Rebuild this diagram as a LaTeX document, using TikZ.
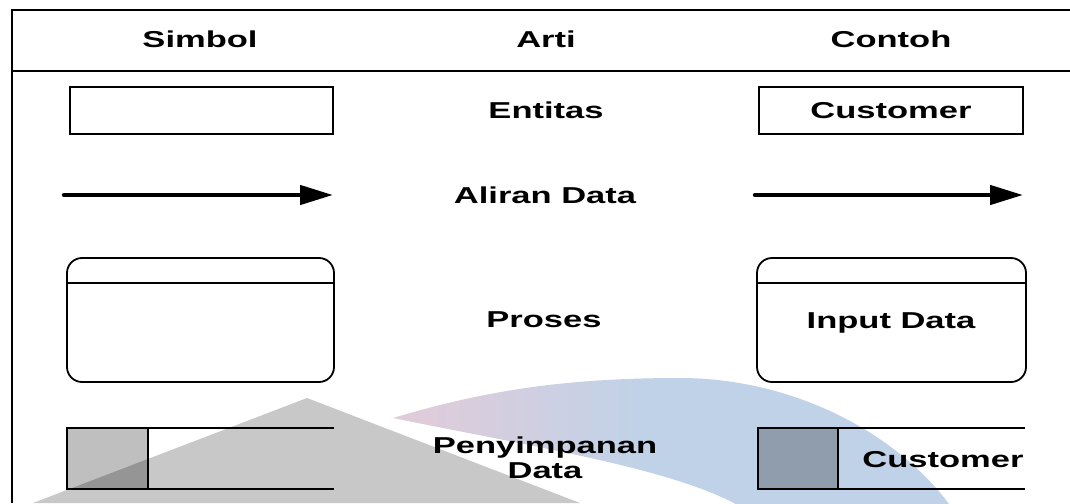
\documentclass[tikz,border=0pt]{standalone}
\usepackage{fontspec}
\setmainfont{Liberation Sans}
\usepackage{tikz}
\usetikzlibrary{arrows.meta,positioning}
\definecolor{storegray}{RGB}{191,191,191}
\definecolor{wmgray}{RGB}{200,200,200}
\definecolor{wmpink}{RGB}{222,204,218}
\definecolor{wmblue}{RGB}{192,210,232}
\pgfdeclarehorizontalshading{swoosh}{100bp}{color(0bp)=(wmpink); color(28bp)=(wmpink); color(47bp)=(wmblue); color(100bp)=(wmblue)}
\newcommand{\widetxt}[1]{\scalebox{1.5}[1]{#1}}

\begin{document}
\begin{tikzpicture}[
x=1pt, y=-1pt,
font=\fontsize{23}{25}\selectfont\bfseries,
frame/.style={line width=1.8pt},
shapeline/.style={line width=1.8pt},
lbl/.style={inner sep=0pt, anchor=base},
flow/.style={line width=4.5pt, line cap=round, -{Triangle[length=33pt,width=19pt]}}
]
    \useasboundingbox (0,0) rectangle (1070,503);

    % Draw table frame
    \draw[frame] (1070,10) -- (12,10) -- (12,503);
    \draw[frame] (12,71) -- (1070,71);

    % Header
    \node[lbl] (hdsimbol) at (200,48) {\widetxt{Simbol}};
    \node[lbl] (hdarti) at (546,48) {\widetxt{Arti}};
    \node[lbl] (hdcontoh) at (891,48) {\widetxt{Contoh}};

    \draw
  	(64,195) coordinate (A)
  	(333,195) coordinate (A2)
  	(755,195) coordinate (B)
  	(1023,195) coordinate (B2);

    % Entitas
    \draw[shapeline] (70,87) rectangle (333,134);
    \draw[shapeline] (759,87) rectangle (1023,134);
    \node[lbl] (entitas) at (546,118) {\widetxt{Entitas}};
    \node[lbl] (entcust) at (891,118) {\widetxt{Customer}};

    % Aliran data
    \draw[flow] (A) -- (A2);
    \draw[flow] (B) -- (B2);
    \node[lbl] (aliran) at (545,203) {\widetxt{Aliran Data}};

    % Proses
    \draw[shapeline, rounded corners=15pt] (67,258) rectangle (334,382);
    \draw[shapeline] (67,283) -- (334,283);
    \draw[shapeline, rounded corners=15pt] (757,258) rectangle (1026,382);
    \draw[shapeline] (757,283) -- (1026,283);
    \node[lbl] (proses) at (544,327) {\widetxt{Proses}};
    \node[lbl] (input) at (891,328) {\widetxt{Input Data}};

    % Penyimpanan data
    \fill[storegray] (67,428) rectangle (148,489);
    \draw[shapeline] (334,428) -- (67,428) -- (67,489) -- (334,489);
    \draw[shapeline] (148,428) -- (148,489);
    \fill[storegray] (758,428) rectangle (838,489);
    \draw[shapeline] (1025,428) -- (758,428) -- (758,489) -- (1025,489);
    \draw[shapeline] (838,428) -- (838,489);
    \node[inner sep=0pt, align=center] (simpan) at (545,458) {\widetxt{Penyimpanan}\\\widetxt{Data}};
    \node[lbl] (storecust) at (943,467) {\widetxt{Customer}};

    % watermark
    \begin{scope}[blend mode=multiply]
      \clip (0,0) rectangle (1070,503);
      \fill[wmgray] (307,398) -- (580,503) -- (33,503) -- cycle;
      \shade[shading=swoosh] (393,418) .. controls (480,392) and (560,378) .. (680,378)
        .. controls (800,378) and (910,440) .. (960,520) -- (760,520)
        .. controls (705,474) and (560,452) .. (393,418) -- cycle;
    \end{scope}

\end{tikzpicture}
\end{document}
